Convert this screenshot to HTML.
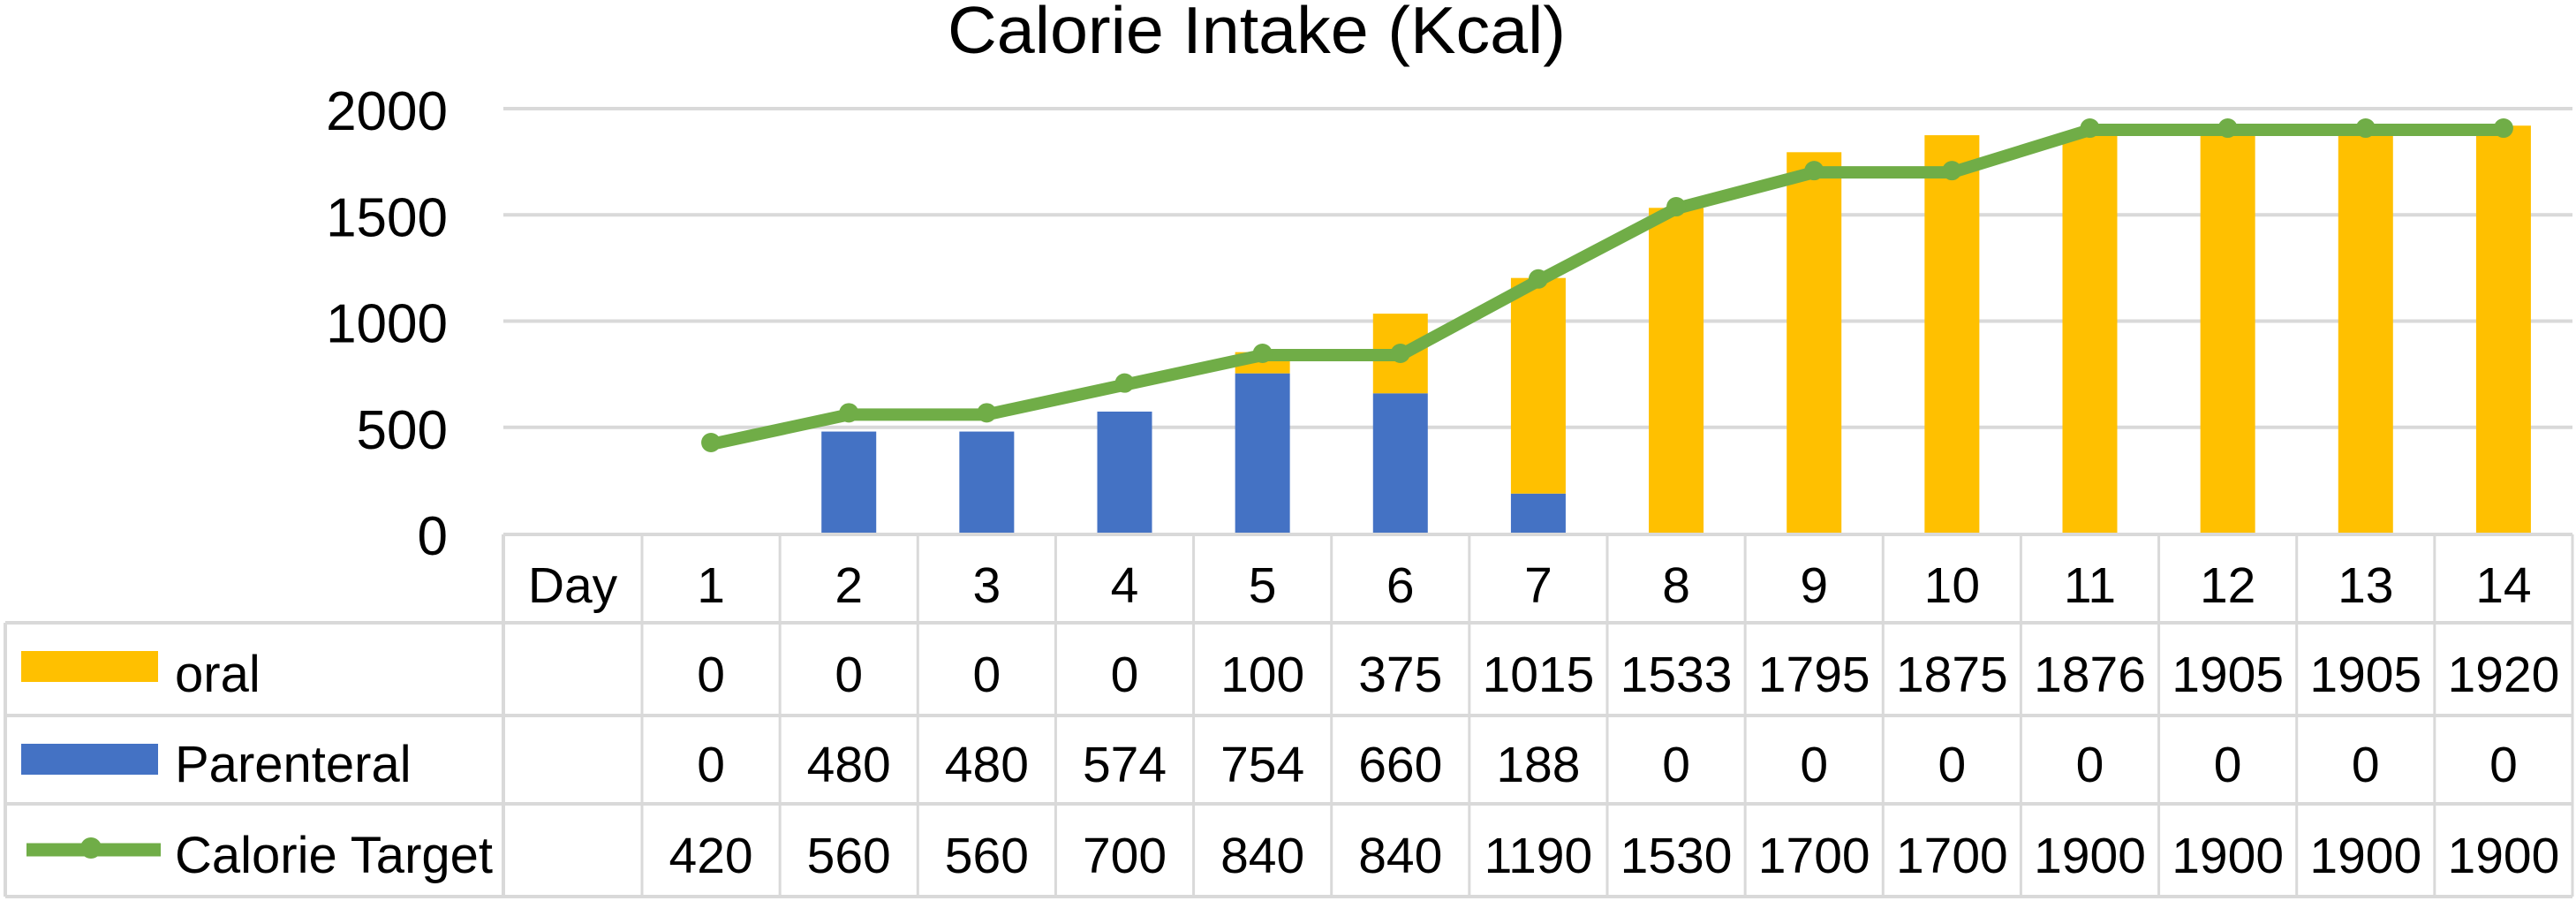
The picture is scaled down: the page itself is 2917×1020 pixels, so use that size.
<!DOCTYPE html>
<html><head><meta charset="utf-8"><style>
html,body{margin:0;padding:0;background:#fff;}
svg{display:block;font-family:"Liberation Sans",sans-serif;}
</style></head><body>
<svg id="chart" width="2917" height="1020" viewBox="0 0 2917 1020" xmlns="http://www.w3.org/2000/svg">
<text x="1423" y="60" font-size="75" text-anchor="middle" textLength="700" lengthAdjust="spacingAndGlyphs">Calorie Intake (Kcal)</text>
<g id="grid"></g><g id="bars"></g><g id="line"></g><g id="table"></g>
</svg>
<script>
const days = ['1','2','3','4','5','6','7','8','9','10','11','12','13','14'];
const oral = [0,0,0,0,100,375,1015,1533,1795,1875,1876,1905,1905,1920];
const parenteral = [0,480,480,574,754,660,188,0,0,0,0,0,0,0];
const target = [420,560,560,700,840,840,1190,1530,1700,1700,1900,1900,1900,1900];
const yTicks = [0,500,1000,1500,2000];

const NS='http://www.w3.org/2000/svg';
function mk(tag, attrs, parent, txt){const e=document.createElementNS(NS,tag);for(const k in attrs)e.setAttribute(k,attrs[k]);if(txt!==undefined)e.textContent=txt;parent.appendChild(e);return e;}
const plotL=570, plotR=2913, y0=604, pxPerUnit=(604-123)/2000;
const colL=727, colW=(plotR-colL)/days.length;
const yS=v=>y0-v*pxPerUnit;
const xS=i=>colL+colW*(i+0.5);
const grid=document.getElementById('grid'), bars=document.getElementById('bars'), line=document.getElementById('line'), table=document.getElementById('table');

yTicks.forEach(t=>{
  if(t>0){const g=mk('line',{x1:plotL,x2:plotR,y1:yS(t),y2:yS(t),stroke:'#d9d9d9','stroke-width':4},grid);
  
  }
  const l=mk('text',{x:507,y:yS(t)+24,'font-size':62,'text-anchor':'end'},grid,String(t));
  
  
});

const bw=62;
days.forEach((d,i)=>{
  const cx=xS(i);
  if(parenteral[i]>0){const r=mk('rect',{x:cx-bw/2,y:yS(parenteral[i]),width:bw,height:parenteral[i]*pxPerUnit,fill:'#4472c4'},bars);
  
  }
  if(oral[i]>0){const r=mk('rect',{x:cx-bw/2,y:yS(parenteral[i]+oral[i]),width:bw,height:oral[i]*pxPerUnit,fill:'#ffc000'},bars);
  
  }
});

const pts=target.map((v,i)=>xS(i)+','+yS(v)).join(' ');
const pl=mk('polyline',{points:pts,fill:'none',stroke:'#70ad47','stroke-width':14,'stroke-linejoin':'miter'},line);


target.forEach((v,i)=>{const c=mk('circle',{cx:xS(i),cy:yS(v)-2,r:11,fill:'#70ad47'},line);

});

// table
const rows=[605,705,810,910,1015];
const tc='#d9d9d9';
mk('line',{x1:plotL,x2:plotR,y1:605,y2:605,stroke:tc,'stroke-width':4},table);
for(let k=1;k<rows.length;k++) mk('line',{x1:6,x2:plotR,y1:rows[k],y2:rows[k],stroke:tc,'stroke-width':4},table);
mk('line',{x1:6,x2:6,y1:705,y2:1015,stroke:tc,'stroke-width':4},table);
mk('line',{x1:plotL,x2:plotL,y1:605,y2:1015,stroke:tc,'stroke-width':4},table);
for(let i=0;i<=days.length;i++) mk('line',{x1:colL+colW*i,x2:colL+colW*i,y1:605,y2:1015,stroke:tc,'stroke-width':3},table);
const fs=57;
const dh=mk('text',{x:(plotL+colL)/2,y:682,'font-size':fs,'text-anchor':'middle'},table,'Day');


days.forEach((d,i)=>{
  const t=mk('text',{x:xS(i),y:682,'font-size':fs,'text-anchor':'middle'},table,d);
  
  
  [[oral,783,'oral'],[parenteral,885,'parenteral'],[target,988,'target']].forEach(([arr,y,n])=>{
    const c=mk('text',{x:xS(i),y:y,'font-size':fs,'text-anchor':'middle'},table,String(arr[i]));
    
    
  });
});
// legend
let s=mk('rect',{x:24,y:737,width:155,height:35,fill:'#ffc000'},table);


s=mk('text',{x:198,y:783,'font-size':58},table,'oral');


s=mk('rect',{x:24,y:842,width:155,height:35,fill:'#4472c4'},table);


s=mk('text',{x:198,y:885,'font-size':58},table,'Parenteral');


s=mk('line',{x1:30,x2:182,y1:962,y2:962,stroke:'#70ad47','stroke-width':15},table);


s=mk('circle',{cx:103,cy:960,r:12,fill:'#70ad47'},table);


s=mk('text',{x:198,y:988,'font-size':58},table,'Calorie Target');


</script>
</body></html>
